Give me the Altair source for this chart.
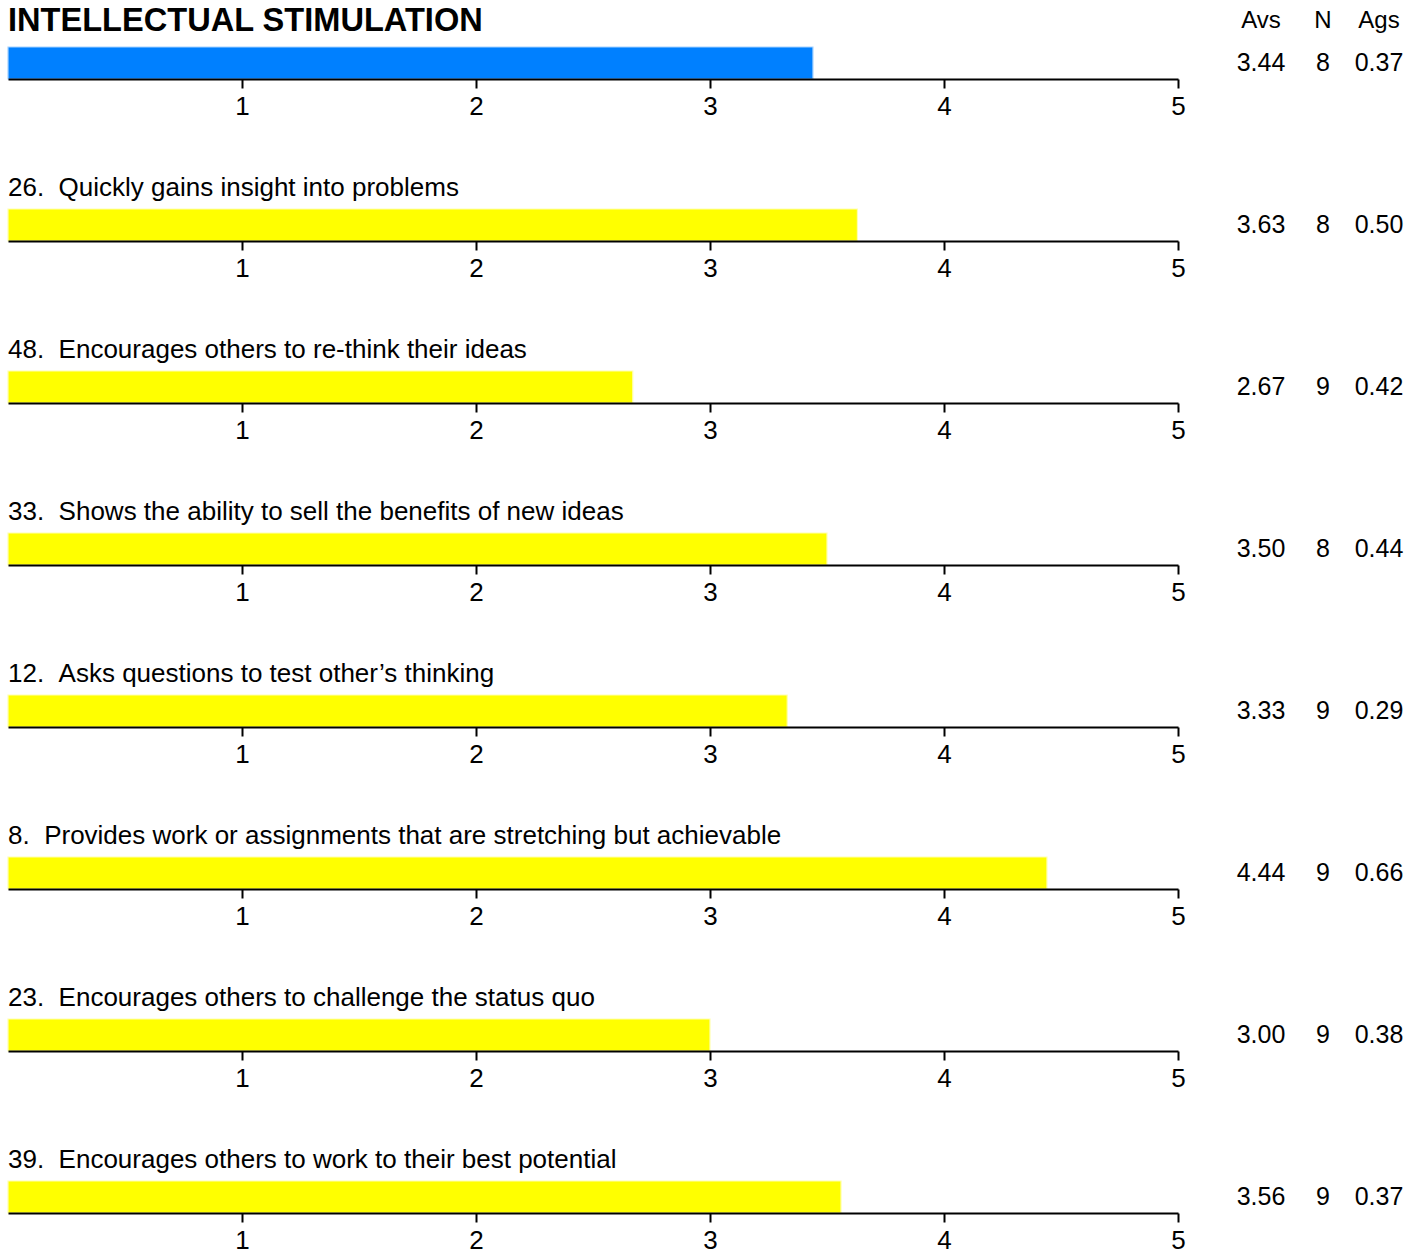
import altair as alt
import pandas as pd

# Section heading and item statements
heading = "INTELLECTUAL STIMULATION"
items = [
    "26.\u00a0\u00a0Quickly gains insight into problems",
    "48.\u00a0\u00a0Encourages others to re-think their ideas",
    "33.\u00a0\u00a0Shows the ability to sell the benefits of new ideas",
    "12.\u00a0\u00a0Asks questions to test other\u2019s thinking",
    "8.\u00a0\u00a0Provides work or assignments that are stretching but achievable",
    "23.\u00a0\u00a0Encourages others to challenge the status quo",
    "39.\u00a0\u00a0Encourages others to work to their best potential",
]
labels = [heading] + items

# Average score, number of raters and agreement for the heading and each item
avs = [3.44, 3.63, 2.67, 3.50, 3.33, 4.44, 3.00, 3.56]
n_raters = [8, 8, 9, 8, 9, 9, 9, 9]
ags = [0.37, 0.50, 0.42, 0.44, 0.29, 0.66, 0.38, 0.37]

stat_cols = ["Avs", "N", "Ags"]
tick_values = [1, 2, 3, 4, 5]

FONT = "Liberation Sans"
W, H = 1170, 32
STAT_X = {"Avs": 1253, "N": 1315, "Ags": 1371}


def panel(i):
    row = pd.DataFrame({
        "row": [labels[i]],
        "label": [labels[i]],
        "avs": [avs[i]],
        "avs_txt": [f"{avs[i]:.2f}"],
        "n_txt": [str(n_raters[i])],
        "ags_txt": [f"{ags[i]:.2f}"],
    })
    is_head = i == 0
    fill = "#0080FF" if is_head else "#FFFF00"
    edge = "#A6D2FF" if is_head else "#FFFFB0"

    x = alt.X(
        "avs:Q",
        scale=alt.Scale(domain=[0, 5], nice=False, zero=True),
        axis=alt.Axis(values=tick_values, title=None, grid=False,
                      labelFlush=False, format="d", zindex=1),
    )
    y = alt.Y("row:N", axis=None,
              scale=alt.Scale(paddingInner=0, paddingOuter=0))

    base = alt.Chart(row)
    bar = base.mark_bar(fill=fill, stroke=edge, strokeWidth=1.2).encode(x=x, y=y)

    num_kw = dict(font=FONT, fontSize=25, color="black",
                  align="center", baseline="middle")
    layers = [
        bar,
        base.mark_text(**num_kw).encode(x=alt.value(STAT_X["Avs"]), y=y, text="avs_txt:N"),
        base.mark_text(**num_kw).encode(x=alt.value(STAT_X["N"]), y=y, text="n_txt:N"),
        base.mark_text(**num_kw).encode(x=alt.value(STAT_X["Ags"]), y=y, text="ags_txt:N"),
    ]

    if is_head:
        layers.append(
            base.mark_text(font=FONT, fontSize=32.6, fontWeight="bold", color="black",
                           align="left", baseline="middle").encode(
                x=alt.value(0), y=alt.value(-26), text="label:N")
        )
        for c in stat_cols:
            layers.append(
                alt.Chart(pd.DataFrame({"col": [c]})).mark_text(
                    font=FONT, fontSize=24, color="black",
                    align="center", baseline="middle").encode(
                    x=alt.value(STAT_X[c]), y=alt.value(-26), text="col:N")
            )
    else:
        layers.append(
            base.mark_text(font=FONT, fontSize=26, color="black",
                           align="left", baseline="middle").encode(
                x=alt.value(0), y=alt.value(-21), text="label:N")
        )

    return alt.layer(*layers).properties(width=W, height=H)


chart = alt.vconcat(*[panel(i) for i in range(len(labels))], spacing=56).properties(
    padding={"left": 7, "top": 5, "right": 0, "bottom": 0}
).configure_view(stroke=None).configure_axis(
    domainColor="black", domainWidth=2, tickColor="black", tickWidth=2,
    tickSize=9, labelFont=FONT, labelFontSize=26, labelColor="black",
    labelPadding=5,
)

chart.save("out.html", embed_options={"renderer": "svg", "actions": False})
